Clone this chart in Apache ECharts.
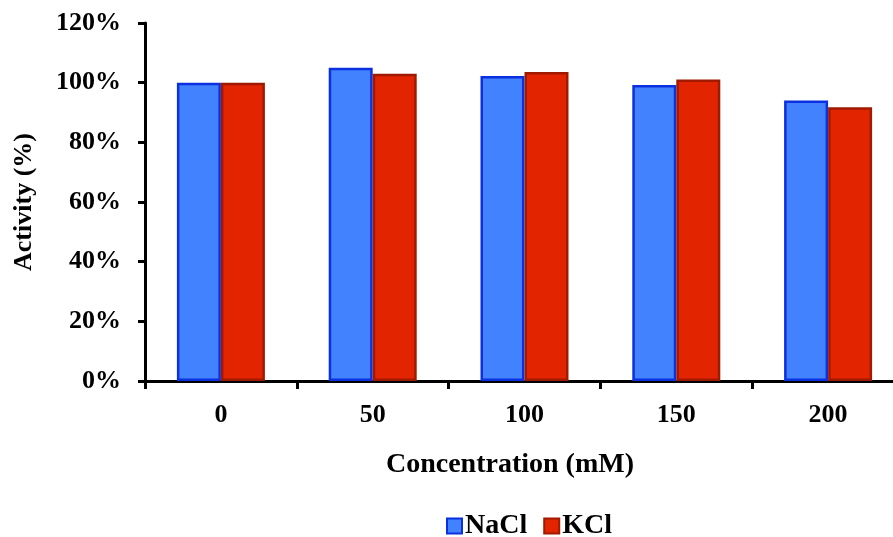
<!DOCTYPE html>
<html><head><meta charset="utf-8">
<script src="https://cdn.jsdelivr.net/npm/echarts@6/dist/echarts.min.js"></script>
<style>html,body{margin:0;padding:0;background:#fff}#c{width:893px;height:537px}</style>
</head><body><div id="c"></div>
<script>
const categories = ['0', '50', '100', '150', '200'];
const nacl = [100, 105, 102.2, 99.2, 94.0];
const kcl = [100, 103, 103.6, 101.1, 91.8];
const yTicks = [0, 20, 40, 60, 80, 100, 120];

const font = '"Liberation Serif", "Times New Roman", serif';
const chart = echarts.init(document.getElementById('c'), null, {renderer: 'canvas'});
chart.setOption({
  animation: false,
  title: {
    text: 'Concentration (mM)', left: 510, top: 451, textAlign: 'center', padding: 0,
    textStyle: {fontFamily: font, fontWeight: 'bold', fontSize: 28, color: '#000'}
  },
  legend: {
    data: ['NaCl', 'KCl'], left: 446, top: 512, padding: 0, itemWidth: 15, itemHeight: 15, itemGap: 16,
    icon: 'rect',
    textStyle: {fontFamily: font, fontWeight: 'bold', fontSize: 28, color: '#000', padding: [0, 0, 0, -2]}
  },
  grid: {left: 145, top: 23, right: -11, bottom: 156, outerBoundsMode: 'none', containLabel: false},
  xAxis: {
    type: 'category', data: categories,
    axisLine: {lineStyle: {color: '#000', width: 3}},
    axisTick: {show: true, length: 8, lineStyle: {color: '#000', width: 3}},
    axisLabel: {fontFamily: font, fontWeight: 'bold', fontSize: 26, color: '#000', margin: 21}
  },
  yAxis: {
    type: 'value', min: 0, max: 120, interval: 20,
    name: 'Activity (%)', nameLocation: 'middle', nameGap: 108, nameRotate: 90,
    nameTextStyle: {fontFamily: font, fontWeight: 'bold', fontSize: 26, color: '#000'},
    axisLine: {show: true, lineStyle: {color: '#000', width: 3}},
    axisTick: {show: true, length: 7, lineStyle: {color: '#000', width: 3}},
    splitLine: {show: false},
    axisLabel: {fontFamily: font, fontWeight: 'bold', fontSize: 26, color: '#000', margin: 24,
      formatter: v => v + '%'}
  },
  series: [
    {name: 'NaCl', type: 'bar', data: nacl, barWidth: 44, barGap: '0%',
     itemStyle: {color: '#4282FF', borderColor: '#0A30E0', borderWidth: 2.5}},
    {name: 'KCl', type: 'bar', data: kcl, barWidth: 44, barGap: '0%',
     itemStyle: {color: '#E32400', borderColor: '#A01A00', borderWidth: 2.5}}
  ]
});
</script></body></html>
